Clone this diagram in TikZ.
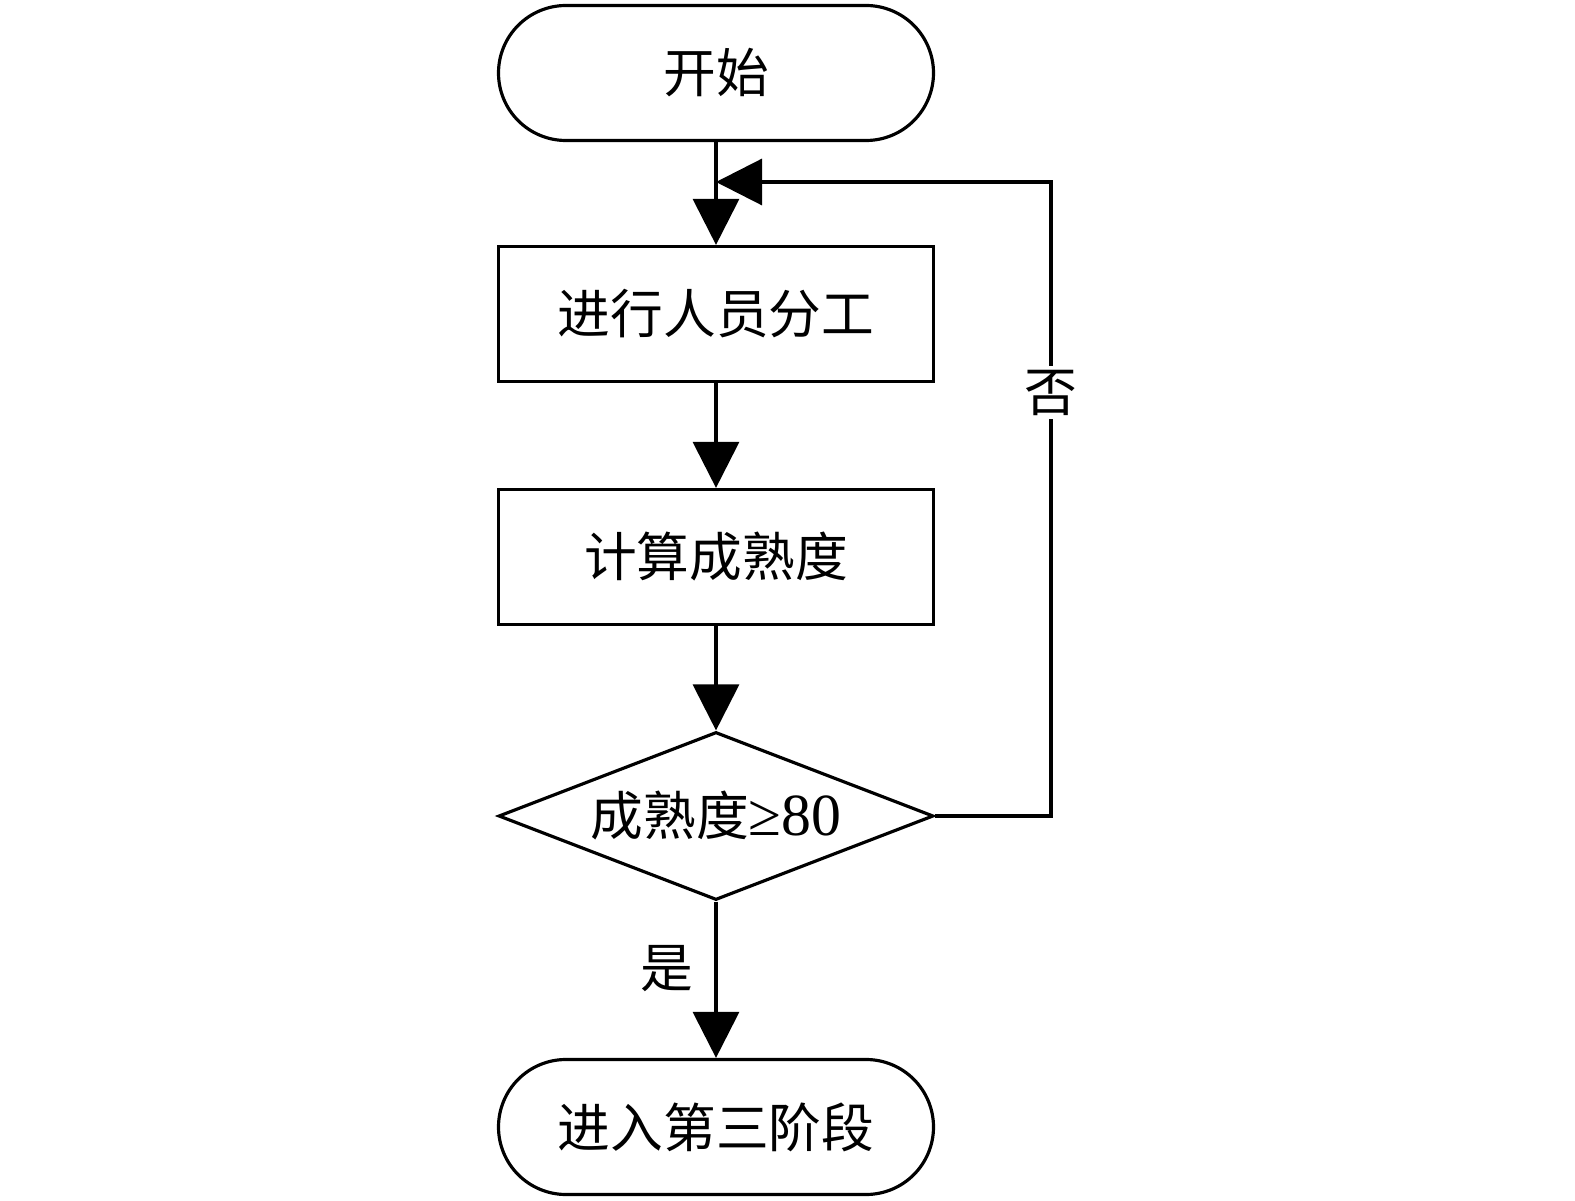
\documentclass[tikz,border=0pt]{standalone}
\usepackage{fontspec}
\setmainfont{Liberation Serif}
\newfontfamily\cjk{Noto Sans CJK SC}
\newfontfamily\numfont{Liberation Serif}
\usetikzlibrary{arrows.meta,shapes.geometric}
\tikzset{
	line/.style={line width=0.9pt},
	arr/.style={line, -{Triangle[length=4.6mm,width=4.6mm]}},
	term/.style={draw, line, rectangle, rounded corners=6.75mm, minimum width=4.35cm, minimum height=1.35cm, font=\cjk\fontsize{15}{18}\selectfont},
	proc/.style={draw, line, rectangle, minimum width=4.35cm, minimum height=1.35cm, font=\cjk\fontsize{15}{18}\selectfont},
	decide/.style={draw, line, diamond, aspect=2.6, inner sep=0pt, minimum width=4.35cm, minimum height=1.68cm, font=\cjk\fontsize{15}{18}\selectfont},
	lbl/.style={font=\cjk\fontsize{15}{18}\selectfont}
}
\begin{document}
\begin{tikzpicture}
		\useasboundingbox (0,0) rectangle (15.75,-12.01);
		\node[term] (start) at (7.16,-0.73) {开始};
		\node[proc] (assign) at (7.16,-3.14) {进行人员分工};
		\node[proc] (calc) at (7.16,-5.57) {计算成熟度};
		\node[decide] (check) at (7.16,-8.16) {成熟度{\numfont\fontsize{17}{18}\selectfont ≥80}};
		\node[term] (stage) at (7.16,-11.27) {进入第三阶段};
		\coordinate (join) at (7.16,-1.82);
		\coordinate (turn) at (10.51,-1.82);
		
		\draw[arr] (start) -- (assign);
		\draw[arr] (assign) -- (calc);
		\draw[arr] (calc) -- (check);
		\draw[arr] (check) -- node[lbl, left=0.09cm, pos=0.43] {是} (stage);
		\draw[arr] (check.east) -| node[lbl, fill=white, inner sep=1pt, pos=0.834] {否} (turn) -- (join);
		
\end{tikzpicture}
\end{document}
